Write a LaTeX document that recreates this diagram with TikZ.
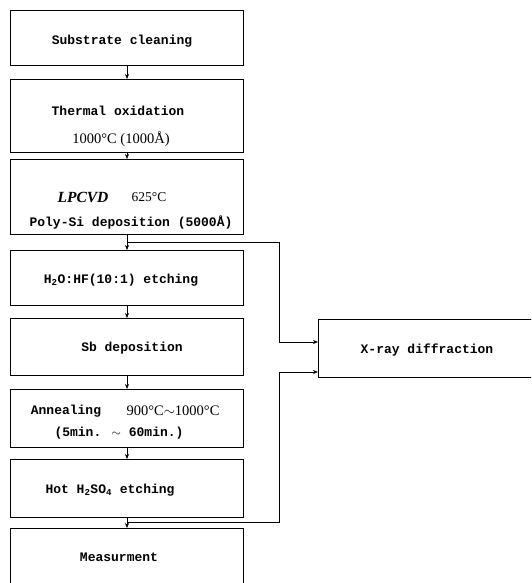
\documentclass[tikz,border=0pt]{standalone}
\usepackage{fontspec}
\setmainfont{Liberation Serif}
\newfontfamily\monof{Liberation Mono}
\usetikzlibrary{arrows.meta}
\begin{document}
\begin{tikzpicture}[x=1pt,y=-1pt,
  box/.style={draw, line width=0.6pt, minimum width=233pt, inner sep=0pt, anchor=north west},
  txt/.style={inner sep=0pt, font=\monof\bfseries\fontsize{13}{15}\selectfont},
  stxt/.style={inner sep=0pt, font=\fontsize{14.5}{16}\selectfont},
  conn/.style={line width=0.6pt},
  arr/.style={conn, -{Stealth[length=5pt,width=4pt]}}]
\useasboundingbox (0,0) rectangle (531,583);
\clip (0,0) rectangle (531,583);
% boxes
\node[box, minimum height=55pt] (b1) at (10,10) {};
\node[box, minimum height=73pt] (b2) at (10,79) {};
\node[box, minimum height=75pt] (b3) at (10,159) {};
\node[box, minimum height=55pt] (b4) at (10,250) {};
\node[box, minimum height=57pt] (b5) at (10,318) {};
\node[box, minimum height=58pt] (b6) at (10,389) {};
\node[box, minimum height=58pt] (b7) at (10,459) {};
\node[box, minimum height=70pt] (b8) at (10,528) {};
\node[box, minimum width=230pt, minimum height=58pt] (xr) at (318,319) {};
% texts
\node[txt] (t1) at (122,41) {Substrate cleaning};
\node[txt] (t2) at (118,111) {Thermal oxidation};
\node[stxt] (t2b) at (121,139) {1000\textdegree C (1000Å)};
\node[stxt, font=\bfseries\itshape\fontsize{15.5}{17}\selectfont] (t3a) at (83,197) {LPCVD};
\node[stxt, font=\fontsize{13.5}{15}\selectfont] (t3b) at (149,197) {625\textdegree C};
\node[txt] (t3c) at (131,223) {Poly-Si deposition (5000Å)};
\node[txt] (t4) at (121,280) {H\textsubscript{2}O:HF(10:1) etching};
\node[txt] (t5) at (132,348) {Sb deposition};
\node[txt] (t6a) at (66,411) {Annealing};
\node[stxt] (t6c) at (173,411) {900\textdegree C$\sim$1000\textdegree C};
\node[txt] (t6b) at (119,433) {(5min. $\sim$ 60min.)};
\node[txt] (t7) at (110,490) {Hot H\textsubscript{2}SO\textsubscript{4} etching};
\node[txt] (t8) at (119,557) {Measurment};
\node[txt] (tx) at (427,350) {X-ray diffraction};
% main flow
\draw[arr] (b1.south -| 127,0) -- (b2.north -| 127,0);
\draw[arr] (b2.south -| 127,0) -- (b3.north -| 127,0);
\draw[arr] (b3.south -| 127,0) -- (b4.north -| 127,0);
\draw[arr] (b4.south -| 127,0) -- (b5.north -| 127,0);
\draw[arr] (b5.south -| 127,0) -- (b6.north -| 127,0);
\draw[arr] (b6.south -| 127,0) -- (b7.north -| 127,0);
\draw[arr] (b7.south -| 127,0) -- (b8.north -| 127,0);
% branches to X-ray
\coordinate (j1) at (127,242);
\coordinate (j2) at (127,522);
\draw[arr] (j1) -- (279,242) -- (279,342) -- (xr.west |- 0,342);
\draw[arr] (j2) -- (279,522) -- (279,372) -- (xr.west |- 0,372);
\end{tikzpicture}
\end{document}
